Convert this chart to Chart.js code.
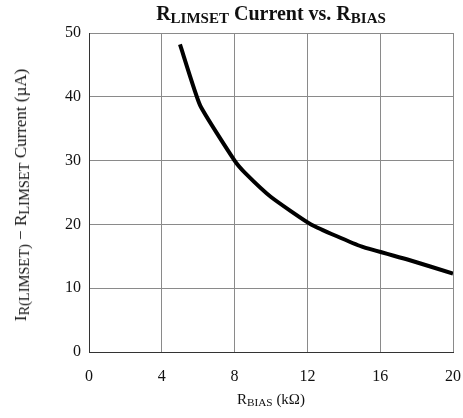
<!DOCTYPE html>
<html>
<head>
<meta charset="utf-8">
<script src="https://cdn.jsdelivr.net/npm/chart.js@4/dist/chart.umd.min.js"></script>
<style>
  html, body { margin: 0; padding: 0; background: #fff; }
  #wrap { position: relative; width: 463px; height: 418px; font-family: "Liberation Serif", serif; color: #111; }
  #chart { position: absolute; left: 0; top: 0; }
  .lbl { position: absolute; white-space: nowrap; }
  .sub { font-size: 0.75em; position: relative; top: 0.2em; }
  #title { left: 89px; width: 364px; top: 2px; text-align: center; font-weight: bold; font-size: 20px; }
  #xtitle { left: 89px; width: 364px; top: 391px; text-align: center; font-size: 15px; }
  #ytitle { left: 21px; top: 195px; font-size: 17px; transform: translate(-50%, -50%) rotate(-90deg); }
  #ytitle .sub { font-size: 0.85em; }
</style>
</head>
<body>
<div id="wrap">
  <canvas id="chart" width="463" height="418"></canvas>
  <div class="lbl" id="title">R<span class="sub">LIMSET</span> Current vs. R<span class="sub">BIAS</span></div>
  <div class="lbl" id="xtitle">R<span class="sub">BIAS</span> (kΩ)</div>
  <div class="lbl" id="ytitle">I<span class="sub">R(LIMSET)</span> − R<span class="sub">LIMSET</span> Current (µA)</div>
</div>
<script>
// curve
const rBias = [5, 6.1, 8, 8.6, 10, 12.2, 15, 17.5, 20];
const current = [48.2, 38.7, 30, 28, 24.3, 20, 16.5, 14.5, 12.3];
const xTicks = [0, 4, 8, 12, 16, 20];
const yTicks = [0, 10, 20, 30, 40, 50];

const tickFont = { family: "Liberation Serif", size: 16 };

new Chart(document.getElementById("chart"), {
  type: "line",
  data: {
    datasets: [{
      data: rBias.map((x, i) => ({ x: x, y: current[i] })),
      borderColor: "#000",
      borderWidth: 4,
      pointRadius: 0,
      tension: 0.15,
      fill: false
    }]
  },
  options: {
    responsive: false,
    animation: false,
    layout: { padding: { left: 0, right: 10, top: 33, bottom: 0 } },
    plugins: { legend: { display: false }, tooltip: { enabled: false } },
    scales: {
      x: {
        type: "linear",
        min: 0, max: 20,
        afterBuildTicks: s => { s.ticks = xTicks.map(v => ({ value: v })); },
        afterFit: s => { s.height = 66; s.paddingLeft = 0; s.paddingRight = 0; },
        ticks: { color: "#111", font: tickFont, padding: 15 },
        grid: { color: "#8a8a8a", lineWidth: 1, drawTicks: false },
        border: { color: "#333", width: 1 }
      },
      y: {
        min: 0, max: 50,
        afterBuildTicks: s => { s.ticks = yTicks.map(v => ({ value: v })); },
        afterFit: s => { s.width = 89; s.paddingTop = 0; s.paddingBottom = 0; },
        ticks: { color: "#111", font: tickFont, padding: 8 },
        grid: { color: "#8a8a8a", lineWidth: 1, drawTicks: false },
        border: { color: "#333", width: 1 }
      }
    }
  }
});
</script>
</body>
</html>
